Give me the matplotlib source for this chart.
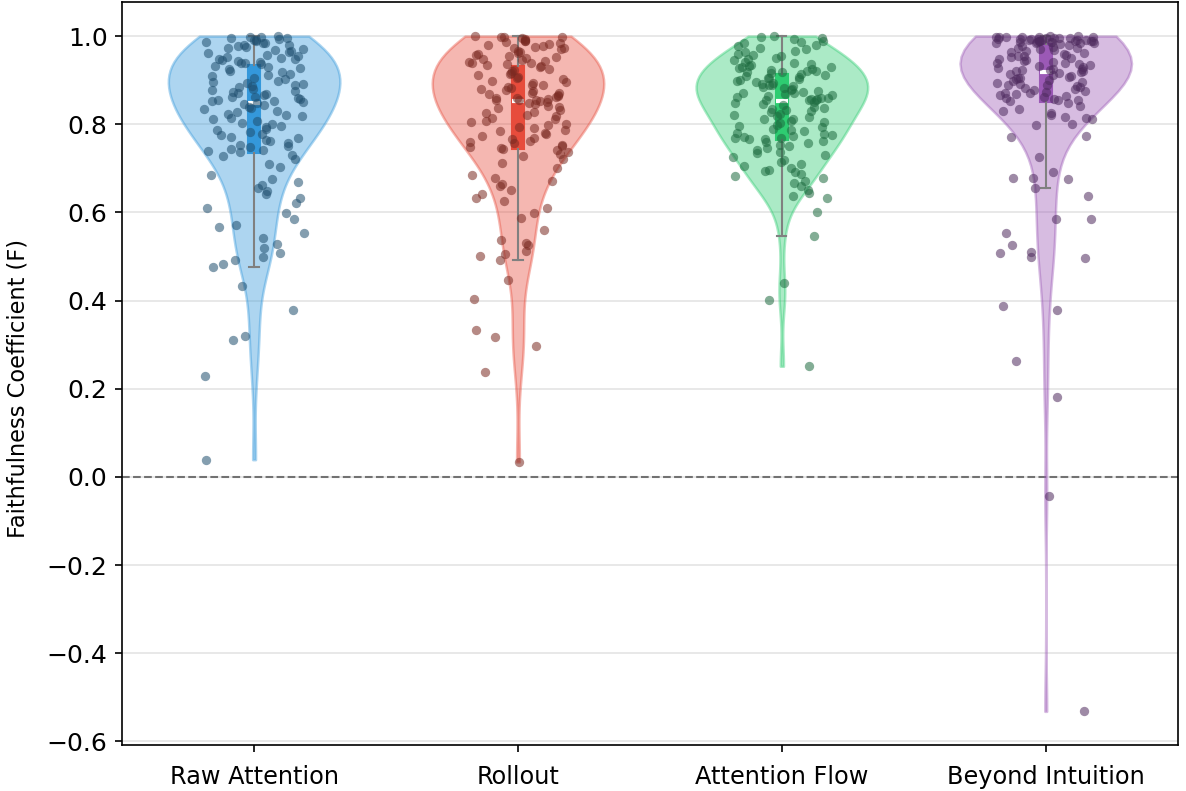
import matplotlib
matplotlib.use("Agg")
import numpy as np
import matplotlib.pyplot as plt

methods = ["Raw Attention", "Rollout", "Attention Flow", "Beyond Intuition"]
violin_colors = ["#3498db", "#e74c3c", "#2ecc71", "#9b59b6"]
point_colors = ["#1f4e6e", "#7a2a22", "#1d6b3f", "#4e2a5e"]

# faithfulness coefficient per sample, one list per method
raw_attention = [
    1.000, 0.999, 0.998, 0.996, 0.995, 0.994, 0.992, 0.991, 0.989, 0.987,
    0.985, 0.984, 0.981, 0.979, 0.977, 0.975, 0.973, 0.971, 0.968, 0.966,
    0.963, 0.961, 0.958, 0.956, 0.953, 0.951, 0.949, 0.947, 0.945, 0.943,
    0.941, 0.939, 0.938, 0.936,
    0.933, 0.930, 0.927, 0.925, 0.921, 0.918, 0.915, 0.912, 0.909, 0.905,
    0.902, 0.899, 0.897, 0.894, 0.891, 0.889, 0.886, 0.884, 0.881, 0.878,
    0.876, 0.873, 0.871, 0.868, 0.866, 0.863, 0.861, 0.859, 0.857, 0.855,
    0.853, 0.852, 0.850, 0.849,
    0.846, 0.843, 0.840, 0.837, 0.834, 0.831, 0.828, 0.824, 0.821, 0.818,
    0.814, 0.811, 0.807, 0.804, 0.801, 0.797, 0.794, 0.790, 0.787, 0.783,
    0.779, 0.776, 0.772, 0.768, 0.765, 0.761, 0.758, 0.754, 0.751, 0.748,
    0.745, 0.742, 0.739, 0.736,
    0.731, 0.727, 0.722, 0.711, 0.703, 0.684, 0.675, 0.668, 0.662, 0.655,
    0.648, 0.641, 0.633, 0.622, 0.609, 0.598, 0.584, 0.572, 0.567, 0.553,
    0.541, 0.528, 0.519, 0.507, 0.498, 0.491, 0.483, 0.476, 0.433, 0.378,
    0.319, 0.311, 0.228, 0.039,
]

rollout = [
    1.000, 0.999, 0.998, 0.997, 0.995, 0.993, 0.991, 0.990, 0.988, 0.986,
    0.984, 0.982, 0.980, 0.978, 0.976, 0.974, 0.972, 0.970, 0.967, 0.965,
    0.962, 0.960, 0.957, 0.955, 0.952, 0.950, 0.948, 0.946, 0.944, 0.942,
    0.940, 0.938, 0.936, 0.935,
    0.932, 0.929, 0.926, 0.923, 0.920, 0.917, 0.914, 0.911, 0.908, 0.905,
    0.902, 0.899, 0.896, 0.893, 0.890, 0.888, 0.885, 0.882, 0.880, 0.877,
    0.875, 0.872, 0.870, 0.868, 0.866, 0.864, 0.862, 0.860, 0.859, 0.857,
    0.856, 0.855, 0.854, 0.853,
    0.851, 0.848, 0.845, 0.842, 0.839, 0.836, 0.833, 0.829, 0.826, 0.822,
    0.819, 0.815, 0.812, 0.808, 0.805, 0.801, 0.798, 0.794, 0.791, 0.787,
    0.784, 0.780, 0.777, 0.773, 0.770, 0.766, 0.763, 0.760, 0.757, 0.754,
    0.751, 0.749, 0.747, 0.745,
    0.741, 0.738, 0.733, 0.727, 0.721, 0.712, 0.701, 0.686, 0.678, 0.671,
    0.665, 0.659, 0.652, 0.641, 0.632, 0.627, 0.609, 0.598, 0.587, 0.561,
    0.538, 0.531, 0.527, 0.512, 0.506, 0.501, 0.493, 0.446, 0.403, 0.333,
    0.318, 0.296, 0.238, 0.034,
]

attention_flow = [
    1.000, 0.998, 0.996, 0.993, 0.990, 0.987, 0.984, 0.980, 0.977, 0.973,
    0.970, 0.966, 0.963, 0.960, 0.957, 0.954, 0.951, 0.948, 0.945, 0.942,
    0.940, 0.937, 0.935, 0.933, 0.931, 0.929, 0.927, 0.925, 0.923, 0.922,
    0.921, 0.919, 0.918, 0.917,
    0.914, 0.912, 0.910, 0.908, 0.906, 0.904, 0.902, 0.900, 0.898, 0.896,
    0.894, 0.892, 0.890, 0.888, 0.886, 0.884, 0.882, 0.880, 0.878, 0.876,
    0.874, 0.872, 0.870, 0.868, 0.866, 0.864, 0.862, 0.860, 0.859, 0.858,
    0.857, 0.856, 0.855, 0.854,
    0.851, 0.848, 0.846, 0.843, 0.840, 0.838, 0.835, 0.832, 0.830, 0.827,
    0.824, 0.822, 0.819, 0.816, 0.813, 0.811, 0.808, 0.805, 0.802, 0.799,
    0.796, 0.793, 0.790, 0.787, 0.784, 0.781, 0.779, 0.776, 0.774, 0.772,
    0.770, 0.768, 0.767, 0.766,
    0.763, 0.760, 0.757, 0.754, 0.750, 0.746, 0.742, 0.738, 0.734, 0.730,
    0.725, 0.720, 0.715, 0.711, 0.706, 0.701, 0.697, 0.693, 0.692, 0.688,
    0.683, 0.678, 0.672, 0.666, 0.659, 0.651, 0.645, 0.638, 0.633, 0.602,
    0.547, 0.440, 0.401, 0.251,
]

beyond_intuition = [
    1.000, 1.000, 0.999, 0.999, 0.998, 0.998, 0.997, 0.997, 0.996, 0.996,
    0.995, 0.995, 0.994, 0.994, 0.993, 0.993, 0.992, 0.992, 0.991, 0.991,
    0.990, 0.990, 0.989, 0.989, 0.988, 0.988, 0.987, 0.987, 0.986, 0.986,
    0.985, 0.985, 0.984, 0.984,
    0.982, 0.980, 0.978, 0.976, 0.974, 0.972, 0.970, 0.968, 0.966, 0.964,
    0.962, 0.960, 0.958, 0.956, 0.954, 0.952, 0.950, 0.948, 0.946, 0.944,
    0.942, 0.940, 0.938, 0.936, 0.934, 0.932, 0.930, 0.928, 0.926, 0.925,
    0.924, 0.923, 0.922, 0.921,
    0.918, 0.916, 0.914, 0.912, 0.910, 0.908, 0.906, 0.904, 0.902, 0.900,
    0.898, 0.896, 0.894, 0.892, 0.890, 0.888, 0.886, 0.884, 0.882, 0.880,
    0.878, 0.876, 0.874, 0.872, 0.870, 0.868, 0.866, 0.864, 0.862, 0.860,
    0.858, 0.856, 0.854, 0.852,
    0.849, 0.842, 0.835, 0.831, 0.826, 0.821, 0.817, 0.815, 0.813, 0.801,
    0.799, 0.774, 0.772, 0.726, 0.692, 0.679, 0.678, 0.655, 0.638, 0.586,
    0.585, 0.554, 0.527, 0.510, 0.507, 0.498, 0.497, 0.387, 0.378, 0.263,
    0.181, -0.043, -0.532, 0.676,
]

scores = [raw_attention, rollout, attention_flow, beyond_intuition]
positions = np.arange(len(methods))


def jitter_offsets(n, seed, spread=0.19):
    # deterministic sideways scatter, hashed from the index so neighbours
    # in the list don't line up
    k = np.arange(n) + 1.0
    h = np.sin(k * 12.9898 + seed * 78.233) * 43758.5453
    return (h % 1.0 - 0.5) * 2 * spread


fig, ax = plt.subplots(figsize=(1186 / 150, 791 / 150), dpi=150)
fig.subplots_adjust(left=0.103, right=0.993, top=0.997, bottom=0.058)

parts = ax.violinplot(scores, positions=positions, widths=0.65,
                      showextrema=False)
for body, color in zip(parts["bodies"], violin_colors):
    body.set_facecolor(color)
    body.set_edgecolor(color)
    body.set_linewidth(1.2)
    body.set_alpha(0.4)
    body.set_zorder(2)

box = ax.boxplot(scores, positions=positions, widths=0.045, capwidths=0.035,
                 patch_artist=True, showfliers=False,
                 whiskerprops=dict(color="#808080", linewidth=1.0),
                 capprops=dict(color="#808080", linewidth=1.0),
                 medianprops=dict(color="white", linewidth=2.0),
                 zorder=3)
for patch, color in zip(box["boxes"], violin_colors):
    patch.set_facecolor(color)
    patch.set_edgecolor(color)

for pos, vals, color in zip(positions, scores, point_colors):
    xs = pos + jitter_offsets(len(vals), pos + 1)
    ax.scatter(xs, vals, s=20, color=color, alpha=0.55, linewidths=0,
               zorder=4)

ax.axhline(0, color="#555555", linestyle="--", linewidth=1.0, alpha=0.8,
           zorder=1)
ax.yaxis.grid(True, color="#dddddd", linewidth=0.8, alpha=0.8)
ax.set_axisbelow(True)

ax.set_xticks(positions)
ax.set_xticklabels(methods, fontsize=11.5)
ax.tick_params(axis="x", pad=6)
ax.tick_params(axis="y", labelsize=12)
ax.set_ylabel("Faithfulness Coefficient (F)", fontsize=10.8)
ax.yaxis.set_label_coords(-0.088, 0.48)
ax.set_xlim(-0.5, 3.5)

plt.savefig("out.png", dpi=150)
